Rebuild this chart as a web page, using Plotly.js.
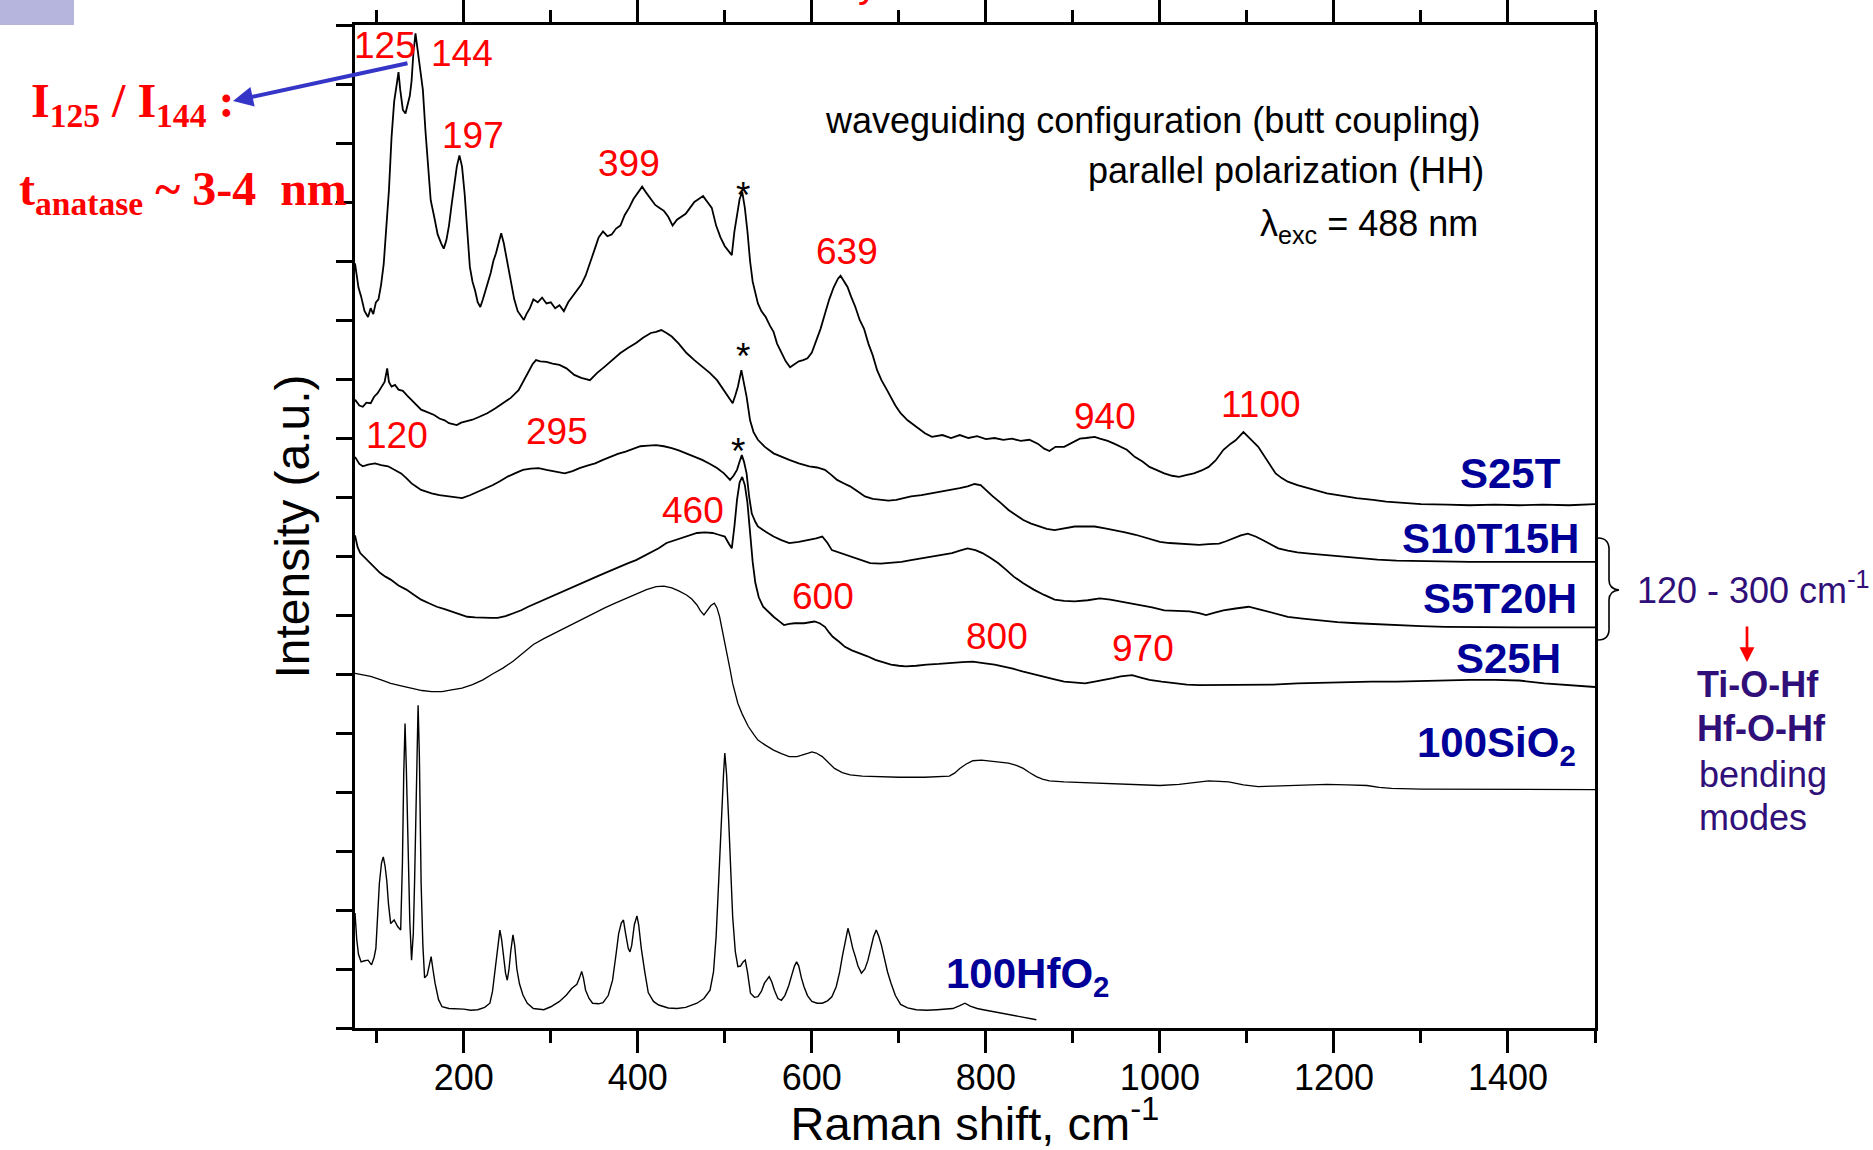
<!DOCTYPE html>
<html><head><meta charset="utf-8">
<script src="https://cdn.plot.ly/plotly-3.0.1.min.js"></script>
<style>html,body{margin:0;padding:0;background:#fff;}#chart{width:1873px;height:1150px;}</style>
</head><body><div id="chart"></div>
<script>
// ---- data (Raman shift cm^-1, offset intensity in tick units) ----
const s25t_x = [75,79,82,86,90,93,96,99,102,105,108,111,114,117,120,123,125,127,130,133,135,138,140,142,144.5,147,150,153,156,159,162,166,170,174,177,180,183,186,189,192,195,198,201,204,207,210,213,216,219,222,225,228,231,234,237,240,243,246,249,252,255,258,262,266,269,272,276,280,285,290,295,300,305,310,315,320,325,330,335,340,345,350,355,360,365,370,375,380,385,390,395,400,405,410,415,420,425,430,435,440,445,450,455,460,465,470,475,480,485,490,495,500,505,508,511,514,517,520,523,526,529,532,535,538,542,547,552,556,560,565,570,575,580,585,590,595,600,605,610,615,620,625,630,633,637,641,645,650,655,660,665,670,675,680,685,690,696,702,710,720,730,738,750,760,770,780,790,800,810,820,830,840,850,860,867,873,880,890,900,908,915,925,931,940,948,955,962,971,980,988,997,1005,1014,1022,1030,1039,1048,1056,1064,1073,1081,1087,1096,1102,1107,1113,1118,1125,1133,1140,1147,1158,1170,1181,1192,1210,1226,1245,1260,1280,1300,1330,1356,1385,1413,1440,1470,1500];
const s25t_y = [12.96,12.55,12.4,12.15,12.05,12.2,12.1,12.3,12.35,12.6,12.95,13.5,14.2,15.1,15.7,16.0,16.2,15.9,15.56,15.5,15.62,15.8,16.05,16.5,16.86,16.6,16.3,15.9,15.2,14.6,14.03,13.75,13.45,13.3,13.21,13.35,13.6,13.95,14.3,14.6,14.79,14.6,14.14,13.5,12.9,12.65,12.5,12.3,12.22,12.35,12.5,12.62,12.8,13.0,13.13,13.3,13.47,13.3,13.05,12.8,12.55,12.35,12.15,12.05,12.0,12.1,12.2,12.35,12.3,12.38,12.28,12.3,12.2,12.25,12.15,12.3,12.4,12.5,12.6,12.75,12.95,13.18,13.4,13.5,13.42,13.45,13.55,13.6,13.78,13.9,14.05,14.15,14.26,14.15,14.05,13.95,13.9,13.85,13.75,13.6,13.7,13.75,13.8,13.9,14.0,14.05,14.1,14.0,13.9,13.6,13.4,13.25,13.15,13.1,13.5,13.8,14.05,14.17,13.9,13.5,13.0,12.65,12.45,12.28,12.15,12.05,11.9,11.8,11.6,11.45,11.3,11.2,11.25,11.3,11.32,11.35,11.45,11.65,11.85,12.1,12.35,12.55,12.7,12.75,12.65,12.56,12.4,12.22,12.0,11.85,11.6,11.4,11.15,10.98,10.85,10.72,10.55,10.42,10.3,10.19,10.08,10.02,10.05,10.0,10.05,10.0,10.03,9.98,10.0,9.97,9.99,9.95,9.97,9.9,9.82,9.78,9.85,9.85,9.93,9.99,10.0,10.02,9.99,9.95,9.9,9.85,9.8,9.68,9.6,9.51,9.45,9.4,9.36,9.34,9.37,9.4,9.45,9.51,9.62,9.8,9.9,9.96,10.1,10.02,9.94,9.85,9.74,9.58,9.4,9.32,9.26,9.2,9.15,9.1,9.06,9.02,8.98,8.95,8.92,8.9,8.88,8.87,8.86,8.87,8.86,8.87,8.86,8.88];

const s10t15h_x = [75,80,84,88,93,97,101,105,109,112,114,117,121,125,130,135,140,145,151,156,161,166,172,178,183,188,192,197,203,210,218,227,236,245,254,263,270,275,279,283,288,295,302,310,318,327,335,345,353,362,371,380,389,398,406,415,421,427,433,439,447,456,465,474,483,491,497,503,509,512,515,519,522,525,529,533,538,546,556,565,574,585,597,606,615,622,629,637,644,652,661,670,679,688,697,705,714,726,738,750,761,770,779,787,794,801,808,817,826,834,843,852,861,870,879,890,902,914,925,937,949,960,972,985,1000,1011,1022,1034,1045,1056,1068,1076,1085,1093,1101,1110,1118,1127,1136,1147,1158,1172,1187,1205,1226,1250,1272,1300,1328,1356,1385,1420,1460,1500];
const s10t15h_y = [10.65,10.55,10.53,10.6,10.59,10.7,10.76,10.85,10.95,11.18,10.95,10.87,10.9,10.82,10.8,10.72,10.65,10.58,10.48,10.45,10.42,10.39,10.33,10.3,10.25,10.24,10.22,10.26,10.28,10.31,10.36,10.42,10.5,10.59,10.68,10.81,11.0,11.15,11.25,11.32,11.3,11.29,11.26,11.24,11.18,11.07,11.02,10.98,11.1,11.21,11.33,11.44,11.53,11.61,11.7,11.78,11.8,11.83,11.78,11.72,11.6,11.44,11.32,11.21,11.1,10.98,10.85,10.7,10.59,10.72,10.87,11.15,10.95,10.7,10.3,10.1,9.97,9.85,9.74,9.68,9.63,9.57,9.52,9.5,9.46,9.38,9.29,9.23,9.18,9.1,9.01,8.97,8.95,8.94,8.95,8.98,9.01,9.03,9.06,9.09,9.12,9.15,9.18,9.22,9.2,9.1,9.01,8.9,8.78,8.7,8.61,8.55,8.5,8.46,8.44,8.47,8.5,8.5,8.5,8.47,8.44,8.4,8.36,8.3,8.24,8.22,8.21,8.2,8.19,8.2,8.21,8.25,8.3,8.35,8.38,8.33,8.27,8.2,8.13,8.09,8.06,8.04,8.02,7.99,7.96,7.94,7.92,7.91,7.9,7.9,7.9,7.9,7.9,7.9];

const s5t20h_x = [75,80,84,90,98,105,113,120,128,134,140,146,151,157,163,172,181,190,198,207,216,225,233,242,251,260,268,277,286,295,304,310,316,325,333,342,351,360,368,377,386,395,403,412,421,430,439,447,456,465,474,483,491,499,506,510,514,517,519.5,522,525,528,531,535,538,547,556,565,574,585,597,605,612,618,623,633,644,655,667,679,691,703,714,726,738,750,761,770,779,788,796,805,814,823,832,843,855,867,879,890,902,917,931,943,955,966,977,991,1005,1019,1034,1045,1053,1063,1073,1087,1102,1113,1124,1136,1147,1164,1181,1204,1226,1250,1272,1300,1328,1370,1413,1455,1500];
const s5t20h_y = [9.68,9.56,9.52,9.55,9.57,9.54,9.52,9.46,9.4,9.32,9.23,9.17,9.12,9.09,9.06,9.03,9.01,8.99,8.98,9.03,9.09,9.14,9.2,9.27,9.35,9.41,9.46,9.48,9.49,9.46,9.43,9.41,9.4,9.44,9.49,9.53,9.57,9.63,9.68,9.73,9.77,9.82,9.86,9.87,9.88,9.86,9.83,9.79,9.74,9.68,9.63,9.56,9.49,9.4,9.29,9.36,9.46,9.6,9.71,9.6,9.4,9.0,8.72,8.58,8.5,8.41,8.33,8.27,8.22,8.24,8.27,8.3,8.33,8.22,8.1,8.05,7.99,7.93,7.88,7.87,7.88,7.9,7.93,7.96,7.99,8.02,8.05,8.09,8.13,8.1,8.05,7.97,7.88,7.77,7.65,7.54,7.43,7.34,7.26,7.24,7.23,7.25,7.28,7.26,7.23,7.19,7.17,7.13,7.08,7.07,7.06,7.03,7.0,7.04,7.08,7.11,7.14,7.1,7.06,7.01,6.97,6.94,6.91,6.88,6.86,6.84,6.83,6.81,6.8,6.79,6.79,6.79,6.79];

const s25h_x = [75,78,81,87,93,99,104,110,116,125,134,143,151,160,169,178,186,195,204,213,222,231,239,248,257,266,274,283,292,301,310,318,327,336,345,354,362,371,380,389,398,406,415,424,433,441,450,459,468,477,486,493,500,505,508,511,514,517,520,523,526,529,532,535,539,544,550,556,562,568,574,580,591,603,609,615,620,624,631,638,646,656,664,673,682,691,700,708,720,732,746,761,773,785,792,799,810,820,831,843,855,867,879,890,902,914,925,937,946,955,963,968,978,988,1002,1017,1031,1045,1073,1102,1130,1158,1186,1215,1243,1272,1300,1328,1356,1385,1413,1442,1470,1500];
const s25h_y = [8.35,8.15,8.05,7.96,7.88,7.78,7.71,7.65,7.6,7.5,7.43,7.34,7.26,7.2,7.14,7.1,7.06,7.01,6.97,6.96,6.95,6.95,6.95,6.98,7.03,7.08,7.14,7.2,7.26,7.32,7.37,7.43,7.48,7.54,7.6,7.66,7.71,7.77,7.82,7.88,7.93,7.99,8.05,8.13,8.22,8.26,8.3,8.34,8.39,8.4,8.39,8.36,8.33,8.2,8.13,8.5,8.95,9.25,9.34,9.2,8.9,8.4,7.9,7.55,7.3,7.14,7.05,6.97,6.9,6.83,6.85,6.86,6.86,6.89,6.86,6.8,6.7,6.63,6.55,6.46,6.4,6.35,6.3,6.24,6.2,6.16,6.14,6.13,6.14,6.16,6.17,6.18,6.2,6.21,6.2,6.18,6.16,6.13,6.09,6.04,6.0,5.96,5.91,5.87,5.85,5.84,5.87,5.9,5.93,5.96,5.97,5.98,5.94,5.9,5.87,5.84,5.82,5.81,5.81,5.81,5.82,5.84,5.85,5.87,5.87,5.87,5.88,5.9,5.9,5.9,5.89,5.84,5.81,5.78];

const sio2_x = [75,85,93,105,116,128,140,152,163,175,186,198,210,222,233,245,257,268,280,292,304,316,327,339,351,362,374,386,398,410,421,430,439,447,456,462,468,472,476,480,484,488,491,494,497,500,503,506,509,512,515,520,527,533,538,547,556,565,574,583,591,596,600,605,612,619,626,635,644,658,673,700,730,758,764,770,777,785,795,802,814,826,835,843,850,858,865,873,890,908,930,950,975,1000,1022,1040,1056,1068,1079,1096,1113,1130,1147,1170,1192,1215,1238,1252,1266,1300,1350,1413,1460,1500];
const sio2_y = [6.01,5.98,5.96,5.9,5.84,5.8,5.76,5.72,5.7,5.7,5.73,5.76,5.82,5.9,6.0,6.1,6.22,6.35,6.5,6.6,6.69,6.78,6.86,6.95,7.03,7.12,7.2,7.28,7.36,7.43,7.48,7.49,7.46,7.41,7.34,7.27,7.17,7.07,7.0,7.08,7.16,7.2,7.12,6.97,6.75,6.55,6.35,6.08,5.84,5.65,5.5,5.32,5.11,4.98,4.88,4.79,4.71,4.65,4.6,4.6,4.63,4.66,4.68,4.66,4.6,4.5,4.4,4.33,4.29,4.27,4.26,4.25,4.25,4.27,4.32,4.4,4.47,4.53,4.54,4.53,4.51,4.49,4.45,4.4,4.33,4.26,4.22,4.19,4.17,4.16,4.14,4.13,4.12,4.11,4.13,4.16,4.19,4.18,4.17,4.12,4.09,4.1,4.11,4.12,4.13,4.12,4.11,4.08,4.06,4.05,4.05,4.04,4.04,4.04];

const hfo2_x = [75,77,79,82,86,90,94,97,99,101,103,105.5,107.5,109.5,111.5,113.5,116,120,124,127.5,129.5,131,132.5,134,136,138,140,142,143.5,145,146.5,147.5,149,151,153,155,158,160.5,162.5,164.5,167,171,175,183,192,200,208,216,224,230,233,236,239,241.5,243.5,246,248,250,252,254,256.5,258.5,261,264,268,273,280,292,300,310,318,324,330,333,335.5,337.5,340,344,348,355,360,366,371,375,378,381,383.5,386,389,391,393,396,399,401,404,408,412,418,424,435,445,455,468,476,483,487,490,493,496,498.5,500,502,504.5,507,509,512,515,518,521,523.5,526,529.5,534,538,542,545.5,549,551,554,557,561,565,569,573.5,577,580,582.5,585,588,591,595,600,606,612,618,623,628,632,635,638.5,641.5,644,647,650,653,657,661,664.5,668,671,674,677,680,683,687,691,696,702,710,720,732,744,755,762,770,776,782,790,797,808,820,832,844,852,858];
const hfo2_y = [1.95,1.5,1.25,1.12,1.14,1.15,1.07,1.2,1.35,1.9,2.45,2.8,2.9,2.75,2.5,2.1,1.77,1.83,1.72,1.66,2.8,4.3,5.16,4.4,3.0,1.8,1.15,1.6,2.5,3.8,5.0,5.47,4.6,2.45,1.4,0.85,0.9,1.1,1.21,1.0,0.76,0.48,0.36,0.33,0.33,0.32,0.3,0.31,0.35,0.42,0.62,0.98,1.4,1.66,1.5,1.21,0.93,0.81,1.0,1.3,1.58,1.4,1.0,0.75,0.56,0.42,0.33,0.31,0.36,0.45,0.56,0.67,0.74,0.85,0.96,0.85,0.64,0.5,0.42,0.41,0.43,0.55,0.81,1.25,1.6,1.78,1.83,1.6,1.35,1.29,1.4,1.75,1.9,1.75,1.35,0.95,0.6,0.45,0.39,0.34,0.33,0.35,0.42,0.5,0.64,0.95,1.55,2.5,3.6,4.3,4.66,4.3,3.5,2.5,1.89,1.3,1.04,1.05,1.12,1.15,0.95,0.59,0.52,0.53,0.62,0.76,0.84,0.87,0.78,0.64,0.5,0.47,0.55,0.72,0.9,1.05,1.12,1.05,0.85,0.7,0.55,0.45,0.42,0.42,0.46,0.53,0.7,0.95,1.21,1.5,1.69,1.55,1.35,1.21,1.05,0.93,1.0,1.15,1.35,1.55,1.66,1.55,1.4,1.2,0.95,0.76,0.55,0.4,0.34,0.31,0.3,0.31,0.32,0.33,0.38,0.42,0.37,0.33,0.31,0.28,0.25,0.22,0.19,0.16,0.14];

const xTickVals = [200,400,600,800,1000,1200,1400];
const peakLabels = ['125','144','197','399','639','120','295','460','600','800','940','1100','970'];
const seriesLabels = ['S25T','S10T15H','S5T20H','S25H','100SiO<sub>2</sub>','100HfO<sub>2</sub>'];

// ---- layout geometry (pixels) ----
const W = 1873, H = 1150, L = 355, R = 1595, T = 25, B = 1028;
const px = x => (x - L) / (R - L);
const py = y => (B - y) / (B - T);
const SANS = 'Liberation Sans, Arial, sans-serif';
const SERIF = 'Liberation Serif, Times New Roman, serif';

function line(x, y, w) {
  return {x: x, y: y, type: 'scatter', mode: 'lines', hoverinfo: 'skip',
          line: {color: '#000', width: w}};
}
const traces = [line(s25t_x, s25t_y, 1.8), line(s10t15h_x, s10t15h_y, 1.8), line(s5t20h_x, s5t20h_y, 1.8),
                line(s25h_x, s25h_y, 1.8), line(sio2_x, sio2_y, 1.3), line(hfo2_x, hfo2_y, 1.4)];

function A(text, x, y, font, xa, ya) {
  return {text: text, x: px(x), y: py(y), xref: 'paper', yref: 'paper', showarrow: false,
          xanchor: xa || 'center', yanchor: ya || 'middle', font: font};
}
const red = {family: SANS, size: 37, color: '#ff0000'};
const blk = {family: SANS, size: 36, color: '#000'};
const star = {family: SANS, size: 37, color: '#000'};
const blue = {family: SANS, size: 42, color: '#000099'};
const purple = {family: SANS, size: 36, color: '#301078'};
const redSerif = {family: SERIF, size: 48, color: '#ff0000'};

const peakPos = [[384.6,45.8],[462,53.3],[472.5,135],[628.8,163.3],[846.7,251.7],[396.6,435],[556.5,431.7],[692.6,510],[822.7,596.7],[996.6,636.7],[1105,416.7],[1261.4,405],[1143,648.3]];
const annotations = peakLabels.map((t, i) => A(t, peakPos[i][0], peakPos[i][1], red));
[[743,196],[743,357],[738,452]].forEach(p => annotations.push(A('*', p[0], p[1], star)));
annotations.push(A('waveguiding configuration (butt coupling)', 1482, 120, blk, 'right'));
annotations.push(A('parallel polarization (HH)', 1486, 170, blk, 'right'));
annotations.push(A('\u03bb<sub>exc</sub> = 488 nm', 1480, 226, blk, 'right'));
const labPos = [[1563,473,'right'],[1581,538,'right'],[1579,598,'right'],[1563,658,'right'],[1578,746,'right'],[944,976,'left']];
seriesLabels.forEach((t, i) => annotations.push(A('<b>' + t + '</b>', labPos[i][0], labPos[i][1], blue, labPos[i][2])));
annotations.push(A('<b>I<sub>125</sub> / I<sub>144</sub> :</b>', 29, 104, redSerif, 'left'));
annotations.push(A('<b>t<sub>anatase</sub> ~ 3-4\u00a0 nm</b>', 17, 192, redSerif, 'left'));
annotations.push(A('120 - 300 cm<sup>-1</sup>', 1635, 588, purple, 'left'));
annotations.push(A('<b>Ti-O-Hf</b>', 1695, 685, purple, 'left'));
annotations.push(A('<b>Hf-O-Hf</b>', 1695, 728, purple, 'left'));
annotations.push(A('bending', 1697, 774, purple, 'left'));
annotations.push(A('modes', 1697, 818, purple, 'left'));
annotations.push(A('y', 868, 7, {family: SANS, size: 40, color: '#ff0000'}, 'center', 'bottom'));
// arrows
annotations.push({text: '', x: px(233), y: py(101), xref: 'paper', yref: 'paper', showarrow: true,
  ax: 176, ay: -38, arrowhead: 2, arrowsize: 1, arrowwidth: 4, arrowcolor: '#3535c8'});
annotations.push({text: '', x: px(1747), y: py(662), xref: 'paper', yref: 'paper', showarrow: true,
  ax: 0, ay: -37, arrowhead: 2, arrowsize: 1.1, arrowwidth: 2.7, arrowcolor: '#ff0000'});

const bx = v => px(v).toFixed(5), by = v => py(v).toFixed(5);
const brace = 'M' + bx(1598) + ',' + by(538) + ' Q' + bx(1610) + ',' + by(538) + ' ' + bx(1609) + ',' + by(552) +
  ' L' + bx(1609) + ',' + by(580) + ' Q' + bx(1609) + ',' + by(589) + ' ' + bx(1619) + ',' + by(590) +
  ' Q' + bx(1609) + ',' + by(591) + ' ' + bx(1609) + ',' + by(600) + ' L' + bx(1609) + ',' + by(627) +
  ' Q' + bx(1610) + ',' + by(640) + ' ' + bx(1598) + ',' + by(640);

const shapes = [
  {type: 'rect', xref: 'paper', yref: 'paper', x0: px(0), x1: px(74), y0: py(0), y1: py(25),
   fillcolor: 'rgb(181,181,222)', line: {width: 0}, layer: 'below'},
  {type: 'path', xref: 'paper', yref: 'paper', path: brace, line: {color: '#000', width: 1.6}}
];

const layout = {
  width: W, height: H,
  margin: {l: L, r: W - R, t: T, b: H - B, pad: 0},
  paper_bgcolor: '#fff', plot_bgcolor: '#fff', showlegend: false,
  font: {family: SANS, color: '#000'},
  xaxis: {
    range: [75, 1500], tickmode: 'array', tickvals: xTickVals, ticktext: xTickVals.map(String),
    ticks: 'outside', ticklen: 22, tickwidth: 3, tickcolor: '#000',
    showline: true, linewidth: 3, linecolor: '#000', mirror: 'allticks',
    showgrid: false, zeroline: false,
    tickfont: {family: SANS, size: 36, color: '#000'}, ticklabelstandoff: -6,
    minor: {tickmode: 'linear', tick0: 100, dtick: 200, ticks: 'outside', ticklen: 12, tickwidth: 3, tickcolor: '#000', showgrid: false},
    title: {text: 'Raman shift, cm<sup>-1</sup>', font: {family: SANS, size: 47, color: '#000'}, standoff: 11}
  },
  yaxis: {
    range: [0, 17], tickmode: 'linear', tick0: 0, dtick: 1,
    ticks: 'outside', ticklen: 16, tickwidth: 3, tickcolor: '#000', showticklabels: false,
    showline: true, linewidth: 3, linecolor: '#000', mirror: true,
    showgrid: false, zeroline: false,
    title: {text: 'Intensity (a.u.)', font: {family: SANS, size: 48, color: '#000'}, standoff: 12}
  },
  annotations: annotations, shapes: shapes
};

Plotly.newPlot('chart', traces, layout, {staticPlot: true, displayModeBar: false});
</script></body></html>
